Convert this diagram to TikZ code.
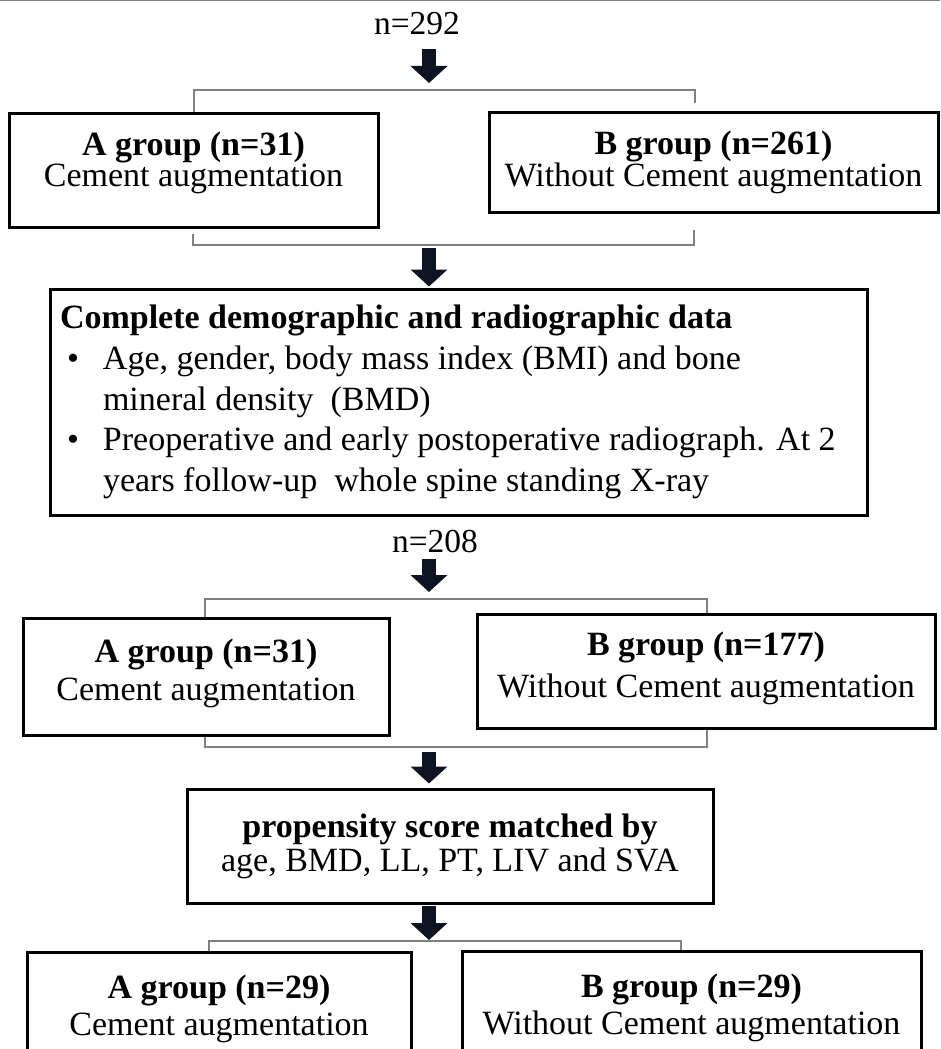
\documentclass[tikz,border=0pt]{standalone}
\usepackage{fontspec}
\setmainfont{Liberation Serif}
\usetikzlibrary{arrows.meta,calc}
\definecolor{arrcol}{RGB}{13,19,34}
\definecolor{brkcol}{RGB}{128,128,128}
\newcommand{\deepen}[1]{\rule[-#1pt]{0pt}{#1pt}}
\begin{document}
\begin{tikzpicture}[x=1pt,y=-1pt,
  box/.style={draw=black, line width=3pt, align=center, inner sep=0pt},
  brk/.style={draw=brkcol, line width=1.3pt},
  bigarr/.style={draw=arrcol, line width=14pt, -{Triangle[width=36pt,length=17pt]}},
  lbl/.style={font=\fontsize{33.5}{36}\selectfont, inner sep=0pt, anchor=base}
]
\useasboundingbox (0,0) rectangle (940,1049);
\draw[brkcol, line width=1.2pt] (0,0.6) -- (940,0.6);

% labels
\node[lbl] (n292) at (417,35) {n=292};
\node[lbl] (n208) at (435,552) {n=208};

% first group row
\node[box, minimum width=369pt, minimum height=114pt, font=\fontsize{34}{31}\selectfont]
  (a1) at (193.5,170) {\textbf{A group (n=31)}\\Cement augmentation\deepen{22}};
\node[box, minimum width=449pt, minimum height=100pt, font=\fontsize{34}{32}\selectfont]
  (b1) at (713.5,162) {\textbf{B group (n=261)}\\Without Cement augmentation};

% big box
\node[box, minimum width=817pt, minimum height=226pt, align=left,
  font=\fontsize{34}{40.75}\selectfont] (bx) at (458.5,402)
  {\makebox[797pt][l]{\textbf{Complete demographic and radiographic data}}\\
   \makebox[43pt][l]{\hspace{7pt}•}Age, gender, body mass index (BMI) and bone\\
   \hspace*{43pt}mineral density\ \ (BMD)\\
   \makebox[43pt][l]{\hspace{7pt}•}Preoperative and early postoperative radiograph. At 2\\
   \hspace*{43pt}years follow-up\ \ whole spine standing X-ray};

% second group row
\node[box, minimum width=366pt, minimum height=117pt, font=\fontsize{34}{38}\selectfont]
  (a2) at (206,676.5) {\textbf{A group (n=31)}\\Cement augmentation\deepen{14}};
\node[box, minimum width=458pt, minimum height=114pt, font=\fontsize{34}{42}\selectfont]
  (b2) at (706,671) {\textbf{B group (n=177)}\\Without Cement augmentation\deepen{13}};

% propensity box
\node[box, minimum width=526pt, minimum height=114pt, font=\fontsize{34}{34}\selectfont]
  (ps) at (450,846) {\textbf{propensity score matched by}\\age, BMD, LL, PT, LIV and SVA};

% final group row
\node[box, minimum width=384pt, minimum height=113.4pt, font=\fontsize{34}{37}\selectfont]
  (a3) at (219,1008.7) {\textbf{A group (n=29)}\\Cement augmentation};
\node[box, minimum width=459pt, minimum height=114.4pt, font=\fontsize{34}{37}\selectfont]
  (b3) at (691.5,1008.2) {\textbf{B group (n=29)}\\Without Cement augmentation};

% bracket corners
\coordinate (k1l) at (194,90);  \coordinate (k1r) at (695,90);
\coordinate (k2l) at (193,245); \coordinate (k2r) at (694,245);
\coordinate (k3l) at (205,599); \coordinate (k3r) at (707,599);
\coordinate (k4l) at (205,747); \coordinate (k4r) at (707,747);
\coordinate (k5l) at (209,941); \coordinate (k5r) at (681,941);

% brackets
\draw[brk] (a1.north -| k1l) -- (k1l) -- (k1r) -- ($(b1.north -| k1r)+(0,-8)$);
\draw[brk] ($(a1.south -| k2l)+(0,5)$) -- (k2l) -- (k2r) -- ($(b1.south -| k2r)+(0,16)$);
\draw[brk] (a2.north -| k3l) -- (k3l) -- (k3r) -- (b2.north -| k3r);
\draw[brk] (a2.south -| k4l) -- (k4l) -- (k4r) -- (b2.south -| k4r);
\draw[brk] (a3.north -| k5l) -- (k5l) -- (k5r) -- (b3.north -| k5r);

% arrows
\coordinate (r1s) at (429,49);  \coordinate (r1e) at (429,83);
\coordinate (r2s) at (429,248);
\coordinate (r3s) at (429,559); \coordinate (r3e) at (429,592);
\coordinate (r4s) at (429,752);
\coordinate (r5s) at (429,906); \coordinate (r5e) at (429,940);
\draw[bigarr] (r1s) -- (r1e);
\draw[bigarr] (r2s) -- ($(r2s |- bx.north)+(0,-1)$);
\draw[bigarr] (r3s) -- (r3e);
\draw[bigarr] (r4s) -- ($(r4s |- ps.north)+(0,-4)$);
\draw[bigarr] (r5s) -- (r5e);
\end{tikzpicture}
\end{document}
